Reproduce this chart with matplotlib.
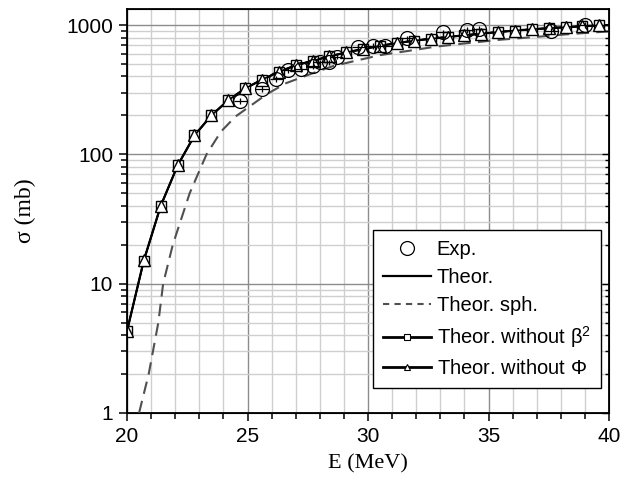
import numpy as np
import matplotlib
matplotlib.use("Agg")
import matplotlib.pyplot as plt
from matplotlib.lines import Line2D
from matplotlib.ticker import LogLocator, MultipleLocator, NullFormatter, FixedLocator

# theoretical curves
e_theor = [20.0, 20.7, 21.4, 22.1, 22.8, 23.5, 24.2, 24.9, 25.6, 26.3, 27.0, 27.7,
           28.4, 29.1, 29.8, 30.5, 31.2, 31.9, 32.6, 33.3, 34.0, 34.7, 35.4, 36.1,
           36.8, 37.5, 38.2, 38.9, 39.6, 40.0]
sig_theor = [4.3, 15.2, 40, 82, 140, 200, 262, 323, 378, 434, 488, 529,
             572, 614, 652, 690, 725, 756, 783, 808, 833, 857, 883, 906,
             927, 945, 962, 978, 993, 1000]

e_nobeta = e_theor[:-1]
sig_nobeta = [4.3, 15.0, 40, 82, 140, 200, 262, 323, 378, 434, 488, 529,
              572, 614, 652, 690, 725, 756, 783, 808, 833, 857, 883, 906,
              927, 945, 962, 978, 993]

e_nophi = e_theor[:-1]
sig_nophi = [4.3, 15.2, 40, 82, 140, 200, 262, 323, 378, 434, 488, 529,
             572, 614, 652, 690, 725, 756, 783, 808, 833, 857, 883, 906,
             927, 945, 962, 978, 993]

e_sph = [20.5, 20.9, 21.3, 21.5, 21.9, 22.6, 23.3, 23.9, 24.5, 25.8, 26.6, 27.6,
         28.5, 29.5, 30.5, 31.7, 32.8, 34.0, 35.5, 37.0, 38.5, 40.0]
sig_sph = [1.0, 2.0, 5.0, 10, 20, 50, 100, 150, 196, 292, 355, 417,
           478, 530, 585, 632, 680, 720, 770, 810, 855, 893]

# experimental points
e_exp = [24.7, 25.6, 26.2, 26.7, 27.2, 27.7, 28.0, 28.4, 28.7, 29.6, 30.2, 30.7,
         31.6, 33.1, 34.1, 34.6, 37.6, 39.0]
sig_exp = [258, 320, 381, 445, 456, 485, 514, 514, 570, 671, 690, 691,
           790, 878, 914, 931, 900, 1005]

fig = plt.figure(figsize=(6.32, 4.87), dpi=100)
ax = fig.add_axes([127 / 632, 1 - 413 / 487, 482 / 632, 404 / 487])

ax.plot(e_sph, sig_sph, color='#505050', lw=1.5, dashes=(6, 3.5), zorder=3)
ax.plot(e_theor, sig_theor, color='k', lw=1.6, zorder=4)
ax.plot(e_nobeta, sig_nobeta, color='k', lw=1.2, marker='s', ms=6.5,
        mfc='white', mec='k', mew=1.0, zorder=5)
ax.plot(e_nophi, sig_nophi, color='k', lw=1.2, marker='^', ms=9,
        mfc='white', mec='k', mew=1.0, zorder=6)
ax.errorbar(e_exp, sig_exp, xerr=0.28, yerr=np.array(sig_exp) * 0.05,
            fmt='o', ms=10, mfc='none', mec='k', mew=0.9, ecolor='k',
            elinewidth=0.9, capsize=0, zorder=7)

ax.set_yscale('log')
ax.set_xlim(20, 40)
ax.set_ylim(1, 1330)

ax.xaxis.set_major_locator(MultipleLocator(5))
ax.xaxis.set_minor_locator(MultipleLocator(1))
ax.yaxis.set_major_locator(FixedLocator([1, 10, 100, 1000]))
ax.yaxis.set_minor_locator(LogLocator(base=10, subs=np.arange(2, 10)))
ax.yaxis.set_minor_formatter(NullFormatter())
ax.set_yticklabels(['1', '10', '100', '1000'])

ax.grid(which='major', color='#8c8c8c', lw=1.0, zorder=0)
ax.grid(which='minor', color='#cfcfcf', lw=1.0, zorder=0)
ax.set_axisbelow(True)

for s in ax.spines.values():
    s.set_linewidth(1.3)

ax.tick_params(which='both', direction='out', width=1.1, top=False, right=False,
               labelsize=15)
ax.tick_params(which='major', length=6, pad=4)
ax.tick_params(which='minor', length=4)
for lab in ax.get_xticklabels() + ax.get_yticklabels():
    lab.set_fontfamily('Liberation Sans')

# inward ticks on the right side
ax2 = ax.twinx()
ax2.set_yscale('log')
ax2.set_ylim(ax.get_ylim())
ax2.yaxis.set_major_locator(FixedLocator([1, 10, 100, 1000]))
ax2.yaxis.set_minor_locator(LogLocator(base=10, subs=np.arange(2, 10)))
ax2.tick_params(which='both', direction='in', width=1.0, labelright=False)
ax2.tick_params(which='major', length=5)
ax2.tick_params(which='minor', length=3)

ax.set_xlabel('E (MeV)', fontfamily='Liberation Serif', fontsize=16, labelpad=6)
ax.set_ylabel('σ (mb)', fontfamily='Liberation Serif', fontsize=17, labelpad=22)

handles = [
    Line2D([], [], ls='none', marker='o', ms=10, mfc='none', mec='k', mew=0.9),
    Line2D([], [], color='k', lw=1.6),
    Line2D([], [], color='#505050', lw=1.5, dashes=(3, 2.5)),
    Line2D([], [], color='k', lw=2.0, marker='s', ms=4, mfc='white', mec='k', mew=0.8),
    Line2D([], [], color='k', lw=2.0, marker='^', ms=5, mfc='white', mec='k', mew=0.8),
]
labels = ['Exp.', 'Theor.', 'Theor. sph.', r'Theor. without $\mathregular{\beta^2}$',
          r'Theor. without $\mathregular{\Phi}$']
leg = ax2.legend(handles, labels, loc='lower right', bbox_to_anchor=(0.983, 0.062),
                 frameon=True, fancybox=False, edgecolor='k', framealpha=1,
                 handlelength=2.35, handletextpad=0.3, labelspacing=0.45,
                 borderpad=0.5, borderaxespad=0,
                 prop={'family': 'Liberation Sans', 'size': 14.5})
leg.get_frame().set_linewidth(1.0)

fig.savefig('out.png', dpi=100)
